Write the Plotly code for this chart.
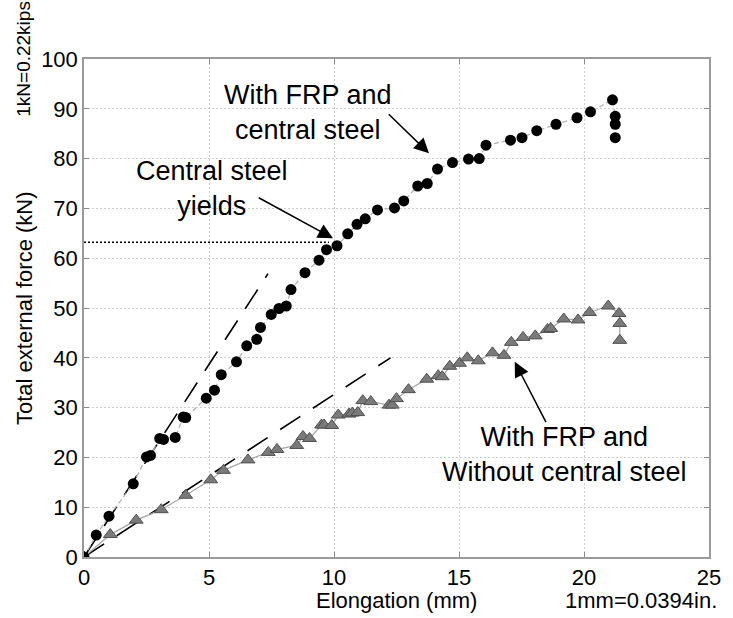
import plotly.graph_objects as go

# ---- data ----
steel_x = [0, 0.49, 1.0, 1.97, 2.5, 2.66, 3.03, 3.18, 3.65, 3.97, 4.07, 4.89, 5.22, 5.49,
           6.10, 6.51, 6.91, 7.06, 7.49, 7.80, 8.09, 8.28, 8.84, 9.40, 9.70, 10.12, 10.55,
           10.92, 11.25, 11.74, 12.42, 12.79, 13.35, 13.73, 14.14, 14.74, 15.38, 15.81,
           16.08, 17.06, 17.52, 18.11, 18.88, 19.72, 20.26, 21.14, 21.25, 21.25, 21.25]
steel_y = [0, 4.4, 8.2, 14.7, 20.1, 20.4, 23.8, 23.6, 24.0, 28.1, 28.0, 31.9, 33.5, 36.6,
           39.2, 42.4, 43.7, 46.1, 48.7, 49.9, 50.4, 53.7, 57.1, 59.6, 61.7, 62.5, 64.9,
           66.8, 67.9, 69.7, 70.1, 71.5, 74.5, 75.0, 77.9, 79.2, 79.9, 80.0,
           82.7, 83.7, 84.2, 85.6, 86.9, 88.2, 89.4, 91.8, 88.5, 86.9, 84.2]

nosteel_x = [0, 1.05, 2.09, 3.09, 4.07, 5.07, 5.58, 6.56, 7.37, 7.72, 8.51, 8.76, 9.02,
             9.5, 9.6, 9.91, 10.17, 10.6, 10.73, 10.95, 11.15, 11.47, 12.2, 12.33, 12.5,
             12.98, 13.71, 14.17, 14.33, 14.63, 15.02, 15.33, 15.77, 16.34, 16.8, 17.09,
             17.56, 18.05, 18.54, 18.67, 19.19, 19.76, 20.22, 20.97, 21.4, 21.43, 21.43]
nosteel_y = [0, 4.5, 7.4, 9.5, 12.4, 15.5, 17.4, 19.5, 21.0, 21.6, 22.4, 24.2, 23.8,
             26.5, 26.5, 26.4, 28.5, 28.7, 28.9, 29.0, 31.4, 31.2, 30.5, 30.5, 31.8,
             33.6, 35.7, 36.4, 36.2, 38.3, 38.9, 40.0, 39.4, 41.0, 40.5, 43.1,
             44.1, 44.4, 45.7, 45.9, 47.8, 47.6, 49.1, 50.4, 48.9, 46.9, 43.5]

# elastic reference lines and yield level
elastic1_x = [0, 7.36]
elastic1_y = [0, 56.9]
elastic2_x = [0, 12.26]
elastic2_y = [0, 40.0]
yield_x = [0, 9.8]
yield_y = [63.2, 63.2]

x_ticks = [0, 5, 10, 15, 20, 25]
y_ticks = [0, 10, 20, 30, 40, 50, 60, 70, 80, 90, 100]

FONT = "Liberation Sans, Arial, sans-serif"

fig = go.Figure()

fig.add_trace(go.Scatter(x=elastic1_x, y=elastic1_y, mode="lines",
                         line=dict(color="black", width=1.6, dash="23px,14px"),
                         hoverinfo="skip", showlegend=False))
fig.add_trace(go.Scatter(x=elastic2_x, y=elastic2_y, mode="lines",
                         line=dict(color="black", width=1.6, dash="24px,15px"),
                         hoverinfo="skip", showlegend=False))
fig.add_trace(go.Scatter(x=yield_x, y=yield_y, mode="lines",
                         line=dict(color="black", width=1.4, dash="2px,2px"),
                         hoverinfo="skip", showlegend=False))

fig.add_trace(go.Scatter(x=nosteel_x, y=nosteel_y, mode="lines+markers",
                         line=dict(color="#a8a8a8", width=1.3),
                         marker=dict(symbol="triangle-up", size=12, color="#7a7a7a",
                                     line=dict(color="#505050", width=1)),
                         name="With FRP and Without central steel", showlegend=False))
fig.add_trace(go.Scatter(x=steel_x, y=steel_y, mode="lines+markers",
                         line=dict(color="#b5b5b5", width=1.3, dash="5px,3px"),
                         marker=dict(symbol="circle", size=11, color="black"),
                         name="With FRP and central steel", showlegend=False))

ann_font = dict(family=FONT, size=27, color="black")
arrow_style = dict(text="", showarrow=True, arrowhead=2, arrowsize=2.0, arrowwidth=1.5,
                   arrowcolor="black", xref="x", yref="y", axref="x", ayref="y")
annotations = [
    # arrows
    dict(x=13.8, y=81.05, ax=12.13, ay=89.2, **arrow_style),
    dict(x=9.96, y=64.0, ax=6.93, ay=72.3, **arrow_style),
    dict(x=17.23, y=39.2, ax=18.51, ay=26.8, **arrow_style),
    # labels
    dict(x=8.97, y=89.25, xref="x", yref="y", text="With FRP and<br>central steel",
         showarrow=False, font=ann_font, xanchor="center", yanchor="middle"),
    dict(x=5.12, y=73.9, xref="x", yref="y", text="Central steel<br>yields",
         showarrow=False, font=ann_font, xanchor="center", yanchor="middle"),
    dict(x=19.23, y=20.5, xref="x", yref="y", text="With FRP and<br>Without central steel",
         showarrow=False, font=ann_font, xanchor="center", yanchor="middle"),
    # axis titles and unit notes
    dict(x=0.5, y=-0.088, xref="paper", yref="paper", text="Elongation (mm)",
         showarrow=False, font=dict(family=FONT, size=22, color="black"),
         xanchor="center", yanchor="middle"),
    dict(x=-0.096, y=0.5, xref="paper", yref="paper", text="Total external force (kN)",
         textangle=-90, showarrow=False, font=dict(family=FONT, size=22, color="black"),
         xanchor="center", yanchor="middle"),
    dict(x=-0.098, y=1.0, xref="paper", yref="paper", text="1kN=0.22kips",
         textangle=-90, showarrow=False, font=dict(family=FONT, size=19, color="black"),
         xanchor="center", yanchor="middle"),
    dict(x=1.016, y=-0.088, xref="paper", yref="paper", text="1mm=0.0394in.",
         showarrow=False, font=dict(family=FONT, size=22, color="black"),
         xanchor="right", yanchor="middle"),
]

axis_common = dict(showline=True, linecolor="#9a9a9a", linewidth=1.5, mirror="allticks",
                   ticks="inside", ticklen=5, tickcolor="#8a8a8a", tickwidth=1.2,
                   showgrid=True, gridcolor="#cdcdcd", gridwidth=1, griddash="2px,2px",
                   zeroline=False, tickfont=dict(family=FONT, size=22, color="black"))

fig.update_layout(
    width=733, height=618, autosize=False,
    margin=dict(l=84, r=15, t=59, b=61),
    paper_bgcolor="white", plot_bgcolor="white",
    font=dict(family=FONT, color="black"),
    xaxis=dict(range=[0, 25], tickvals=x_ticks, **axis_common),
    yaxis=dict(range=[0, 100], tickvals=y_ticks, **axis_common),
    annotations=annotations,
    showlegend=False,
)

fig.write_html("out.html",
               config={"displayModeBar": False},
               post_script="document.body.style.margin='0';document.body.style.overflow='hidden';")
